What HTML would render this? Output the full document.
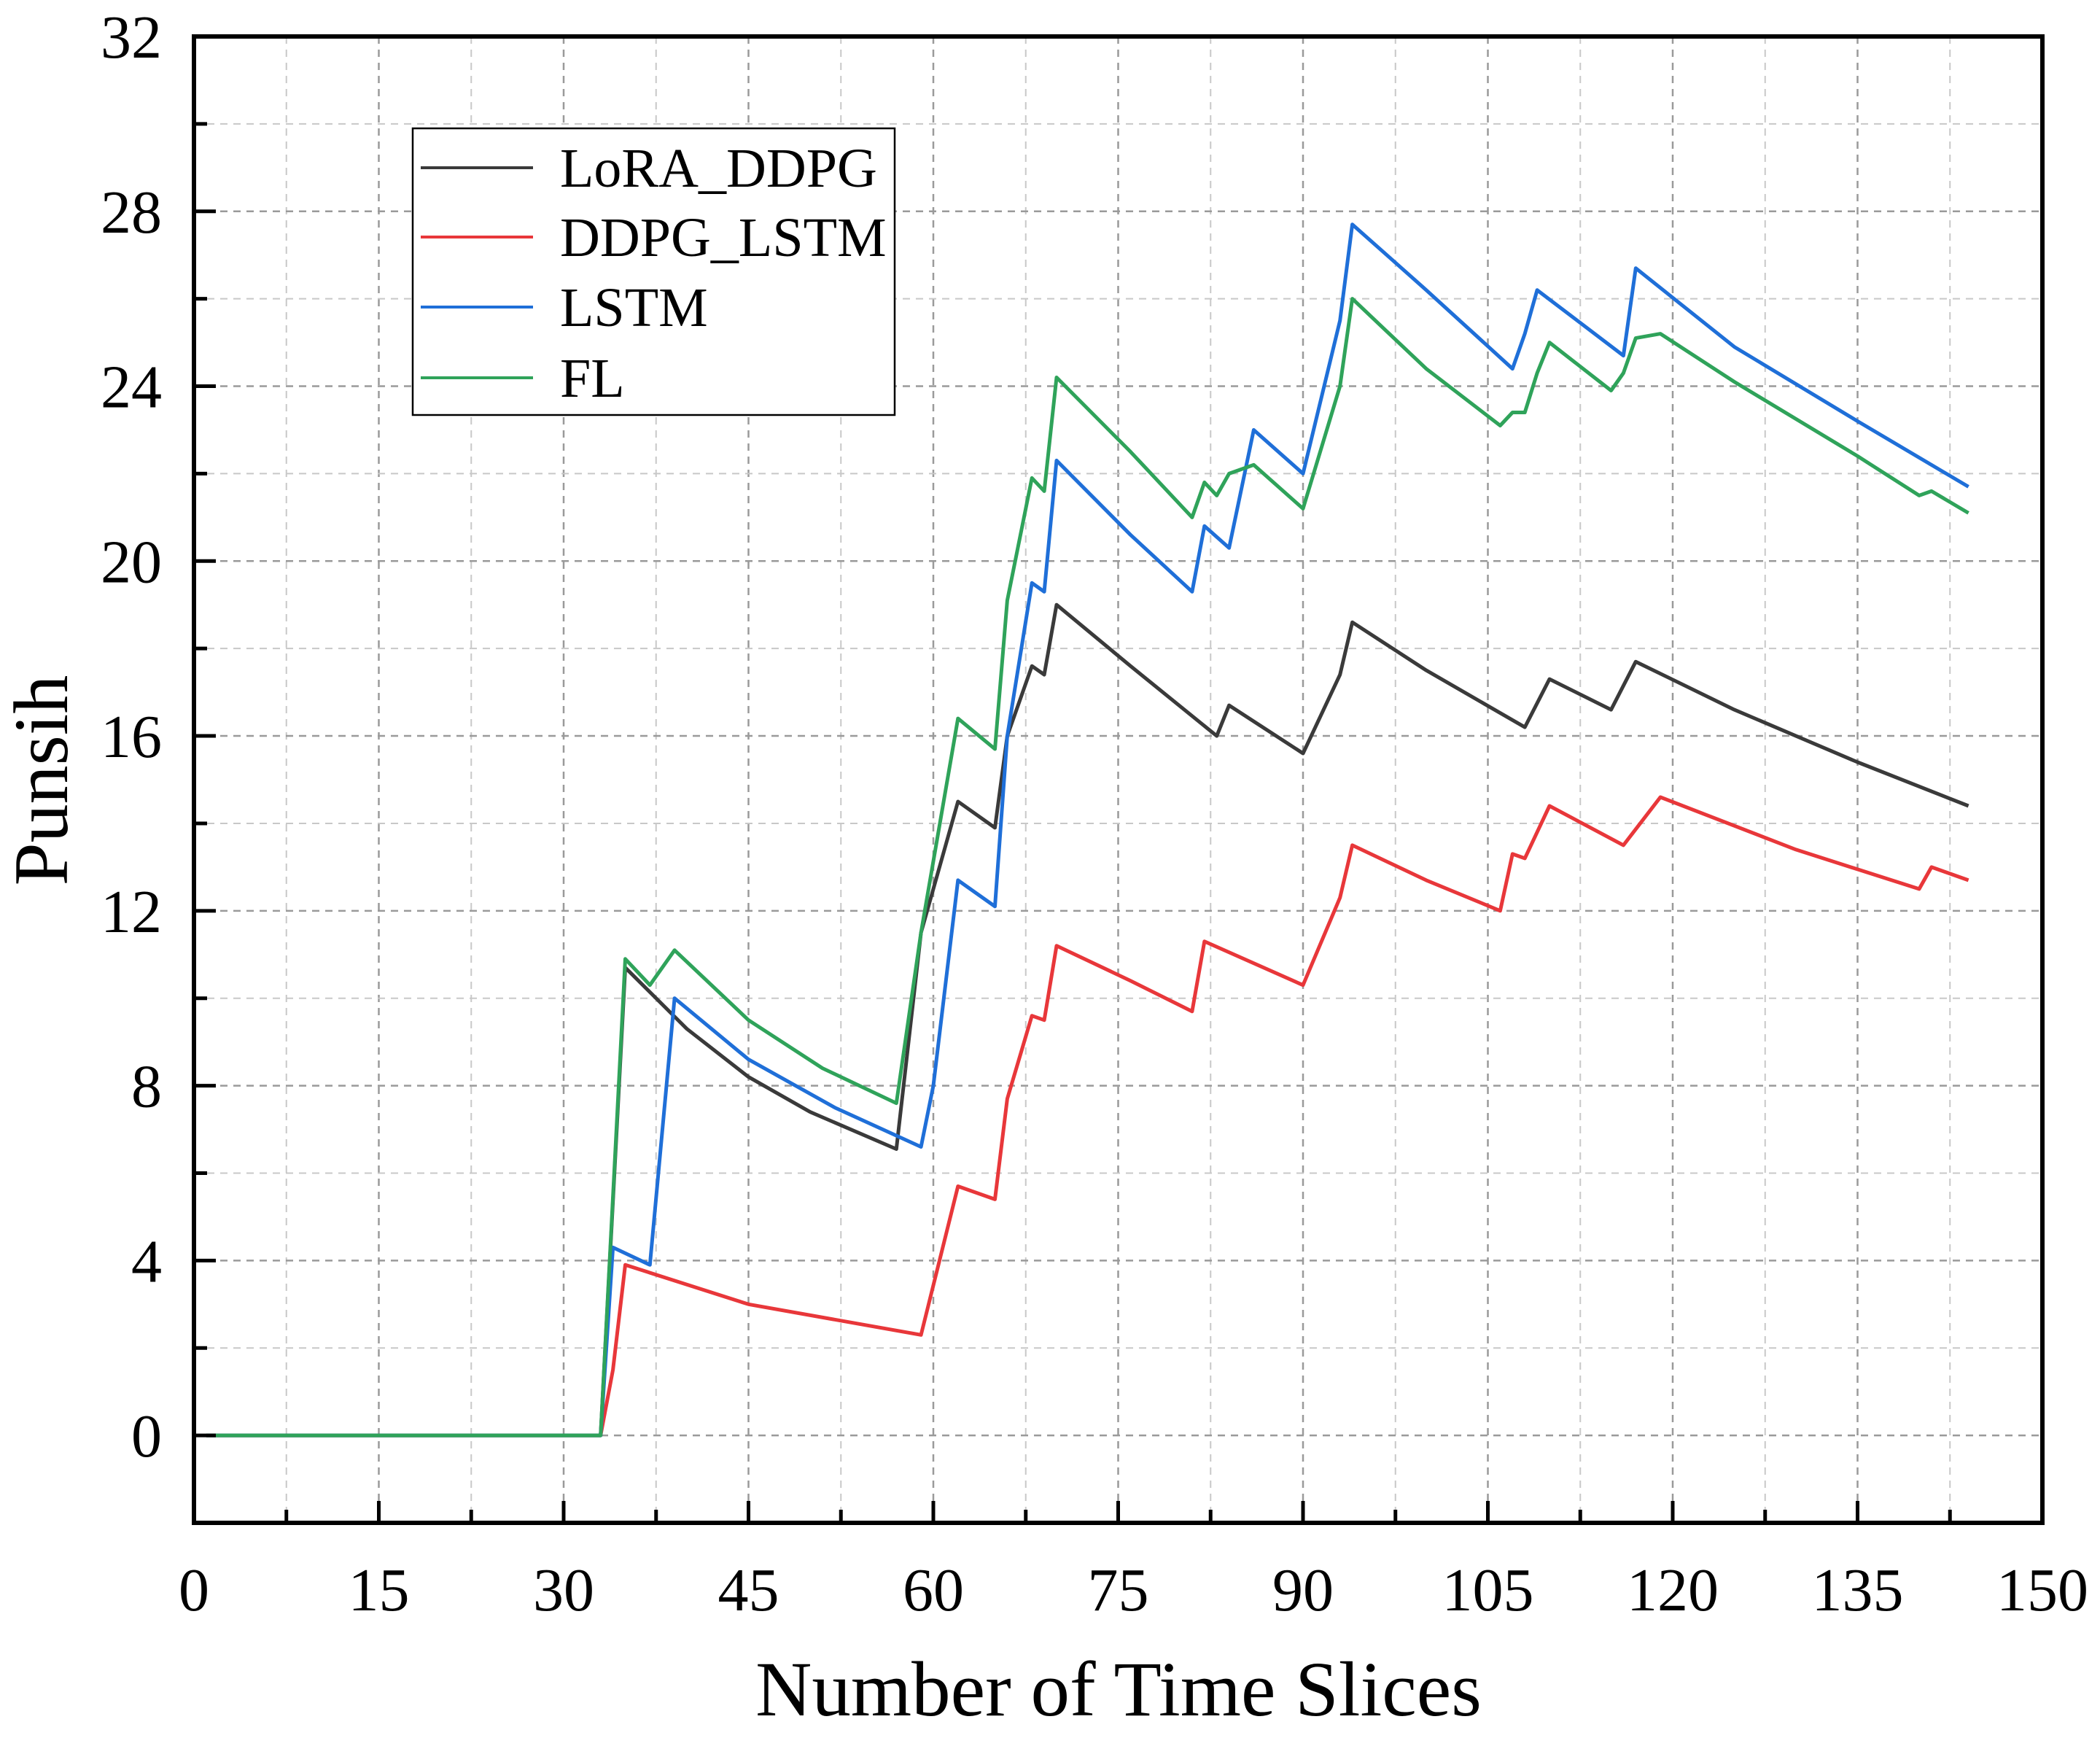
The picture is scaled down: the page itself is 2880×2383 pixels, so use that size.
<!DOCTYPE html>
<html><head><meta charset="utf-8"><style>
html,body{margin:0;padding:0;background:#fff;}
svg{display:block;font-family:"Liberation Serif",serif;}
</style></head>
<body>
<svg id="chart" width="2880" height="2383" viewBox="0 0 2880 2383" xmlns="http://www.w3.org/2000/svg">
<rect width="2880" height="2383" fill="#fff"/>
<g id="grid"></g>
<g id="series"></g>
<g id="axes"></g>
<g id="legend"></g>
</svg>
<script>
const xTicks=[0,15,30,45,60,75,90,105,120,135,150];
const yTicks=[0,4,8,12,16,20,24,28,32];
const seriesNames=["LoRA_DDPG","DDPG_LSTM","LSTM","FL"];
const seriesColors=["#3a3a3a","#e8373a","#1f6fd8","#2fa35a"];
const loraX=[1,33,35,40,45,50,57,59,62,65,66,68,69,70,76,83,84,90,93,94,100,108,110,115,117,125,135,144];
const loraY=[0,0,10.7,9.3,8.2,7.4,6.55,11.5,14.5,13.9,16.0,17.6,17.4,19.0,17.6,16.0,16.7,15.6,17.4,18.6,17.5,16.2,17.3,16.6,17.7,16.6,15.4,14.4];
const ddpgX=[1,33,34,35,45,59,62,65,66,68,69,70,76,81,82,90,93,94,100,106,107,108,110,116,119,130,140,141,144];
const ddpgY=[0,0,1.5,3.9,3.0,2.3,5.7,5.4,7.7,9.6,9.5,11.2,10.4,9.7,11.3,10.3,12.3,13.5,12.7,12.0,13.3,13.2,14.4,13.5,14.6,13.4,12.5,13.0,12.7];
const lstmX=[1,33,34,37,39,45,52,59,60,62,65,66,68,69,70,76,81,82,84,86,90,93,94,100,107,108,109,116,117,125,135,144];
const lstmY=[0,0,4.3,3.9,10.0,8.6,7.5,6.6,8.0,12.7,12.1,16.0,19.5,19.3,22.3,20.6,19.3,20.8,20.3,23.0,22.0,25.5,27.7,26.2,24.4,25.2,26.2,24.7,26.7,24.9,23.2,21.7];
const flX=[1,33,35,37,39,45,51,57,59,62,65,66,68,69,70,76,81,82,83,84,86,90,93,94,100,106,107,108,109,110,115,116,117,119,125,135,140,141,144];
const flY=[0,0,10.9,10.3,11.1,9.5,8.4,7.6,11.5,16.4,15.7,19.1,21.9,21.6,24.2,22.5,21.0,21.8,21.5,22.0,22.2,21.2,24.0,26.0,24.4,23.1,23.4,23.4,24.3,25.0,23.9,24.3,25.1,25.2,24.1,22.4,21.5,21.6,21.1];

const L=266,R=2801,T=50,B=2088,XMIN=0,XMAX=150,YMIN=-2,YMAX=32;
const X=v=>L+(v-XMIN)*(R-L)/(XMAX-XMIN);
const Y=v=>B-(v-YMIN)*(B-T)/(YMAX-YMIN);
const NS="http://www.w3.org/2000/svg";
function mk(tag,parent,attrs){const e=document.createElementNS(NS,tag);for(const k in attrs)e.setAttribute(k,attrs[k]);parent.appendChild(e);return e;}
const grid=document.getElementById('grid'),axes=document.getElementById('axes'),ser=document.getElementById('series'),leg=document.getElementById('legend');

for(let v=7.5;v<150;v+=7.5){const major=(v%15===0);
 const l=mk('line',grid,{x1:X(v),x2:X(v),y1:T,y2:B,stroke:major?'#9a9a9a':'#c8c8c8','stroke-width':major?2.5:2,'stroke-dasharray':'10,8'});
 }
for(let v=0;v<32;v+=2){const major=(v%4===0);
 const l=mk('line',grid,{x1:L,x2:R,y1:Y(v),y2:Y(v),stroke:major?'#9a9a9a':'#c8c8c8','stroke-width':major?2.5:2,'stroke-dasharray':'10,8'});
 }

const xs=[loraX,ddpgX,lstmX,flX],ys=[loraY,ddpgY,lstmY,flY];
for(let s=0;s<4;s++){
 const d=xs[s].map((x,i)=>(i?'L':'M')+X(x).toFixed(1)+','+Y(ys[s][i]).toFixed(1)).join(' ');
 const p=mk('path',ser,{d:d,fill:'none',stroke:seriesColors[s],'stroke-width':5,'stroke-linejoin':'round'});
 
 
}

const fr=mk('rect',axes,{x:L,y:T,width:R-L,height:B-T,fill:'none',stroke:'#000','stroke-width':6});

for(let v=0;v<=150;v+=7.5){const major=(v%15===0);
 const t=mk('line',axes,{x1:X(v),x2:X(v),y1:B,y2:B-(major?30:18),stroke:'#000','stroke-width':5});
 }
for(let v=-2;v<=32;v+=2){const major=(v%4===0);
 const t=mk('line',axes,{x1:L,x2:L+(major?30:18),y1:Y(v),y2:Y(v),stroke:'#000','stroke-width':5});
 }
xTicks.forEach(v=>{const t=mk('text',axes,{x:X(v),y:2208,'text-anchor':'middle','font-size':84,fill:'#000'});t.textContent=v;
 });
yTicks.forEach(v=>{const t=mk('text',axes,{x:222,y:Y(v)+29,'text-anchor':'end','font-size':84,fill:'#000'});t.textContent=v;
 });
const xt=mk('text',axes,{x:1534,y:2352,'text-anchor':'middle','font-size':107,fill:'#000'});xt.textContent='Number of Time Slices';

const yt=mk('text',axes,{x:0,y:0,'text-anchor':'middle','font-size':106,fill:'#000',transform:'translate(92,1070) rotate(-90)'});yt.textContent='Punsih';


const lb=mk('rect',leg,{x:566,y:176,width:661,height:393,fill:'#fff',stroke:'#000','stroke-width':2.5});

const ly=[230,325,421,518];
for(let s=0;s<4;s++){
 const g=mk('g',leg,{});
 
 mk('line',g,{x1:577,x2:731,y1:ly[s],y2:ly[s],stroke:seriesColors[s],'stroke-width':4});
 const t=mk('text',g,{x:768,y:ly[s]+26,'font-size':76,fill:'#000'});t.textContent=seriesNames[s];
}
</script>
</body></html>
